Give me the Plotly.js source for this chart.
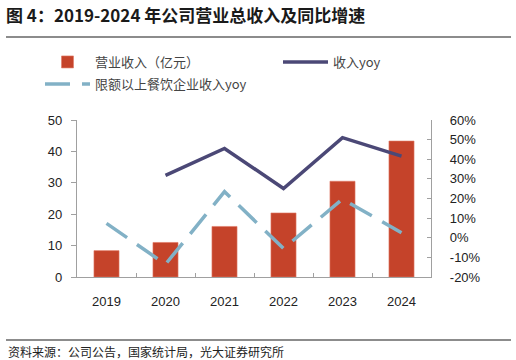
<!DOCTYPE html>
<html>
<head>
<meta charset="utf-8">
<script src="https://cdn.plot.ly/plotly-3.0.1.min.js"></script>
<style>html,body{margin:0;padding:0;background:#fff;}#chart{width:516px;height:360px;}</style>
</head>
<body>
<div id="chart"></div>
<script>
const years = ['2019', '2020', '2021', '2022', '2023', '2024'];
const revenue = [8.4, 11.0, 16.1, 20.4, 30.5, 43.3];
const revenueYoy = [null, 31.8, 45.5, 25.1, 51.0, 41.6];
const cateringYoy = [7.3, -13.5, 23.5, -5.5, 19.7, 2.5];
const leftTicks = [0, 10, 20, 30, 40, 50];
const rightTicks = [-20, -10, 0, 10, 20, 30, 40, 50, 60];
const rightTickText = rightTicks.map(v => v + '%');

const CJK = '"Noto Sans CJK SC", "Liberation Sans", sans-serif';
const LAT = '"Liberation Sans", Arial, sans-serif';

const M = {l: 77, r: 85, t: 120, b: 83};
const W = 516, H = 360;
const pw = W - M.l - M.r, ph = H - M.t - M.b;
const px = x => (x - M.l) / pw;
const py = y => (H - M.b - y) / ph;

const traces = [
  {
    type: 'bar', x: years, y: revenue, name: '营业收入（亿元）',
    marker: {color: '#c5432a', line: {color: '#e07a66', width: 0.6}},
    yaxis: 'y', legend: 'legend'
  },
  {
    type: 'scatter', mode: 'lines', x: years, y: revenueYoy, name: '收入yoy',
    line: {color: '#4b4876', width: 3.5}, yaxis: 'y2', connectgaps: false, legend: 'legend2'
  },
  {
    type: 'scatter', mode: 'lines', x: years, y: cateringYoy, name: '限额以上餐饮企业收入yoy',
    line: {color: '#82b1c6', width: 3.5, dash: '25px,12px'}, yaxis: 'y2', legend: 'legend3'
  }
];

const legFont = {family: CJK, size: 13, color: '#444'};
const legBase = {orientation: 'v', xanchor: 'left', yanchor: 'top', font: legFont, itemwidth: 45,
  itemclick: false, bgcolor: 'rgba(0,0,0,0)'};
const layout = {
  width: W, height: H,
  margin: M,
  paper_bgcolor: '#fff', plot_bgcolor: '#fff',
  font: {family: LAT, size: 13, color: '#222'},
  bargap: 0.575,
  showlegend: true,
  legend: Object.assign({}, legBase, {x: px(40), y: py(47)}),
  legend2: Object.assign({}, legBase, {x: px(278), y: py(47)}),
  legend3: Object.assign({}, legBase, {x: px(40), y: py(69)}),
  title: {
    text: '<b>图 4：2019-2024 年公司营业总收入及同比增速</b>',
    font: {family: CJK, size: 17, color: '#1a1a1a'},
    xref: 'container', yref: 'container', x: 6 / W, xanchor: 'left', y: 1 - 16 / H, yanchor: 'middle'
  },
  xaxis: {
    type: 'category', showgrid: false, zeroline: false,
    showline: true, linecolor: '#a0a0a0', linewidth: 1.2,
    ticks: 'inside', tickson: 'boundaries', ticklen: 4, tickcolor: '#a0a0a0',
    tickfont: {family: LAT, size: 13, color: '#222'}, ticklabelstandoff: 12
  },
  yaxis: {
    range: [0, 50], tickvals: leftTicks, showgrid: false, zeroline: false,
    showline: true, linecolor: '#a0a0a0', linewidth: 1.2,
    ticks: 'outside', ticklen: 5, tickcolor: '#a0a0a0',
    tickfont: {family: LAT, size: 13, color: '#222'}, ticklabelstandoff: 6
  },
  yaxis2: {
    overlaying: 'y', side: 'right', range: [-20, 60], tickvals: rightTicks, ticktext: rightTickText,
    showgrid: false, zeroline: false,
    showline: true, linecolor: '#a0a0a0', linewidth: 1.2,
    ticks: 'inside', ticklen: 4, tickcolor: '#a0a0a0',
    tickfont: {family: LAT, size: 13, color: '#222'}, ticklabelstandoff: 15
  },
  shapes: [
    {type: 'line', xref: 'paper', yref: 'paper', x0: px(6), x1: px(511), y0: py(37), y1: py(37), line: {color: '#666', width: 1.5}},
    {type: 'line', xref: 'paper', yref: 'paper', x0: px(6), x1: px(511), y0: py(340), y1: py(340), line: {color: '#666', width: 1.5}}
  ],
  annotations: [
    {text: '资料来源：公司公告，国家统计局，光大证券研究所', xref: 'paper', yref: 'paper', x: px(6), y: py(351), xanchor: 'left', yanchor: 'middle', showarrow: false, font: {family: CJK, size: 12, color: '#222'}}
  ]
};

Plotly.newPlot('chart', traces, layout, {displayModeBar: false, staticPlot: true});
</script>
</body>
</html>
